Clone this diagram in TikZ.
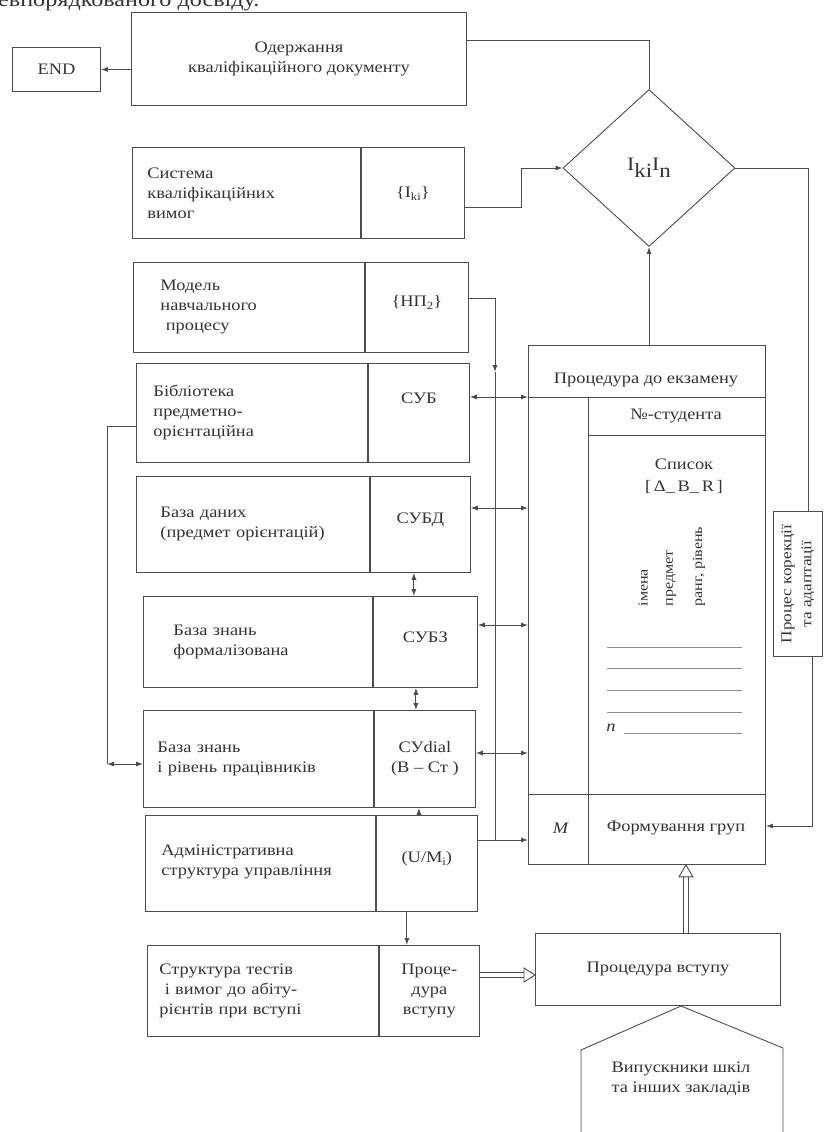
\documentclass[tikz,border=0pt]{standalone}
\usepackage{fontspec}
\setmainfont[FakeStretch=1.15]{Liberation Serif}
\usetikzlibrary{arrows.meta,shapes.geometric,calc}
\newcommand{\subtx}[1]{\raisebox{-3pt}{\fontsize{11}{11}\selectfont #1}}
\begin{document}
\begin{tikzpicture}[x=1pt,y=-1pt,
  every node/.style={text=black!80, font=\fontsize{16}{20}\selectfont},
  ln/.style={draw=black!70, line width=0.9pt},
  lbox/.style={ln, rectangle, anchor=north west, align=left, inner ysep=0pt},
  rbox/.style={ln, rectangle, anchor=north west, align=center, inner sep=0pt},
  arr/.style={ln, -{Latex[length=7pt,width=5pt]}},
  darr/.style={ln, {Latex[length=7pt,width=5pt]}-{Latex[length=7pt,width=5pt]}},
  hol/.style={draw=black!70, line width=0.7pt, double=white, double distance=4pt},
  thinln/.style={draw=black!45, line width=0.6pt}
]
\useasboundingbox (0,0) rectangle (836,1132);
\fill[white] (0,0) rectangle (836,1132);

% cut-off text at the top
\node[anchor=base west, inner sep=0pt, font=\fontsize{21}{21}\selectfont] (cut) at (-2,7) {евпорядкованого досвіду.};

% top row
\node[ln, rectangle, anchor=north west, minimum width=335pt, minimum height=93pt, align=center] (title) at (131,12) {\raisebox{6pt}{\parbox{300pt}{\centering Одержання\\кваліфікаційного документу}}};
\node[ln, rectangle, anchor=north west, minimum width=88pt, minimum height=44pt] (end) at (12,47) {END};

% diamond
\node[ln, diamond, minimum width=172pt, minimum height=157pt, inner sep=0pt,
  font=\fontsize{19}{19}\selectfont] (dia) at (649,168) {\raisebox{3pt}{I}\raisebox{-4pt}{\fontsize{20}{20}\selectfont ki}\raisebox{3pt}{I}\raisebox{-4pt}{\fontsize{20}{20}\selectfont n}};

% left column
\node[lbox, text width=198pt, inner xsep=15pt, minimum height=91pt] (sys) at (132,147) {\raisebox{4pt}{\parbox{198pt}{Система\\кваліфікаційних\\вимог}}};
\node[rbox, minimum width=103pt, minimum height=91pt] (sysR) at (sys.north east) {\{I\subtx{ki}\}};

\node[lbox, text width=177pt, inner xsep=27pt, minimum height=90pt] (mod) at (133,262) {Модель\\навчального\\\ процесу};
\node[rbox, minimum width=103pt, minimum height=90pt] (modR) at (mod.north east) {\raisebox{14pt}{\{НП\subtx{2}\}}};

\node[lbox, text width=197pt, inner xsep=17pt, minimum height=99pt] (lib) at (136,363) {Бібліотека\\предметно-\\орієнтаційна};
\node[rbox, minimum width=101pt, minimum height=99pt] (libR) at (lib.north east) {\raisebox{30pt}{СУБ}};

\node[lbox, text width=185pt, inner xsep=24pt, minimum height=96pt] (db) at (136,476) {База даних\\(предмет орієнтацій)};
\node[rbox, minimum width=100pt, minimum height=96pt] (dbR) at (db.north east) {\raisebox{12pt}{СУБД}};

\node[lbox, text width=169pt, inner xsep=30pt, minimum height=91pt] (kb) at (143,596) {\raisebox{8pt}{\parbox{169pt}{База знань\\формалізована}}};
\node[rbox, minimum width=104pt, minimum height=91pt] (kbR) at (kb.north east) {\raisebox{10pt}{СУБЗ}};

\node[lbox, text width=202pt, inner xsep=14pt, minimum height=97pt] (kw) at (143,710) {\raisebox{10pt}{\parbox{202pt}{База знань\\і рівень працівників}}};
\node[rbox, minimum width=101pt, minimum height=97pt] (kwR) at (kw.north east) {СУdial\\(В – Ст )};

\node[lbox, text width=198pt, inner xsep=16pt, minimum height=96pt] (adm) at (145,815) {\raisebox{16pt}{\parbox{198pt}{Адміністративна\\структура управління}}};
\node[rbox, minimum width=101pt, minimum height=96pt] (admR) at (adm.north east) {\raisebox{14pt}{(U/M\subtx{i})}};

\node[lbox, text width=207pt, inner xsep=12pt, minimum height=91pt] (str) at (147,945) {Структура тестів\\\ і вимог до абіту-\\рієнтів при вступі};
\node[rbox, minimum width=100pt, minimum height=91pt] (strR) at (str.north east) {Проце-\\дура\\вступу};

% big box
\node[ln, rectangle, anchor=north west, minimum width=237pt, minimum height=519pt] (big) at (528,345) {};
\draw[ln] (big.west |- 0,397) -- (big.east |- 0,397);
\draw[ln] (588,397) -- (588,864);
\draw[ln] (588,435) -- (big.east |- 0,435);
\draw[ln] (big.west |- 0,794) -- (big.east |- 0,794);
\node (hdr) at (646,380) {Процедура до екзамену};
\node (nst) at (676,416) {№-студента};
\node[align=center, font=\fontsize{16}{22}\selectfont] (spys) at (684,476) {Список\\{[}\,Δ\_\,B\_\,R\,{]}};
\node[rotate=90, anchor=west, font=\fontsize{14}{14}\selectfont] (im) at (643,610) {імена};
\node[rotate=90, anchor=west, font=\fontsize{14}{14}\selectfont] (pr) at (671,610) {предмет};
\node[rotate=90, anchor=west, font=\fontsize{14}{14}\selectfont] (rr) at (699,610) {ранг, рівень};
\draw[thinln] (607,647) -- (742,647);
\draw[thinln] (607,668) -- (742,668);
\draw[thinln] (607,690) -- (742,690);
\draw[thinln] (607,712) -- (742,712);
\draw[thinln] (624,733) -- (742,733);
\node (nn) at (611,728) {\textit{n}};
\node (mm) at (561,828) {\textit{M}};
\node (fg) at (676,828) {Формування груп};

% correction process
\node[ln, rectangle, anchor=north west, minimum width=49pt, minimum height=145pt] (proc) at (773,511) {};
\node[rotate=90, align=center, font=\fontsize{15}{20}\selectfont] (proct) at (proc.center) {Процес корекції\\та адаптації};

% admission
\node[ln, rectangle, anchor=north west, minimum width=245pt, minimum height=72pt] (pv) at (535,933) {Процедура вступу};
\draw[ln] (581,1140) -- (581,1050) -- (681,1006) -- (783,1048) -- (783,1140);
\node[align=center] (vyp) at (681,1079) {Випускники шкіл\\та інших закладів};

% connectors
\draw[arr] (title.west |- end.east) -- (end.east);
\draw[ln] (title.east |- 0,40) -| (dia.north);
\draw[arr] (sysR.east |- 0,207) -- (521,207) |- (dia.west);
\draw[arr] (dia.south |- big.north) -- (dia.south);
\draw[ln] (dia.east) -| ([xshift=10pt]proc.north);
\draw[arr] ([xshift=14pt]proc.south) |- (big.east |- 0,826);

\draw[arr] (modR.east |- 0,298) -| (495,372);
\draw[ln] (495,372) -- (495,840);
\draw[darr] (libR.east |- 0,397) -- (big.west |- 0,397);
\draw[darr] (dbR.east |- 0,508) -- (big.west |- 0,508);
\draw[darr] (kbR.east |- 0,625) -- (big.west |- 0,625);
\draw[darr] (kwR.east |- 0,753) -- (big.west |- 0,753);
\draw[arr] (admR.east |- 0,840) -- (big.west |- 0,840);

\draw[darr] ([xshift=44pt]dbR.south west) -- ([xshift=41pt]kbR.north west);
\draw[darr] ([xshift=43pt]kbR.south west) -- ([xshift=42pt]kwR.north west);
\draw[arr] ([xshift=43pt]admR.north west) -- ([xshift=45pt]kwR.south west);
\draw[arr] ([xshift=31pt]admR.south west) -- ([xshift=28pt]strR.north west);

\draw[ln] (lib.west |- 0,426) -- (107,426) -- (107,764);
\draw[darr] (107,764) -- (kw.west |- 0,764);

% hollow arrows
\coordinate (hE) at (pv.west |- 0,975);
\draw[hol] (strR.east |- 0,975) -- ($(hE)+(-10,0)$);
\draw[ln, fill=white] (hE) -- ++(-11,-7) -- ++(0,14) -- cycle;
\coordinate (vS) at ([xshift=28pt]pv.north);
\coordinate (vE) at (big.south -| vS);
\draw[hol] (vS) -- ($(vE)+(0,11)$);
\draw[ln, fill=white] (vE) -- ++(-7,12) -- ++(14,0) -- cycle;
\end{tikzpicture}
\end{document}
